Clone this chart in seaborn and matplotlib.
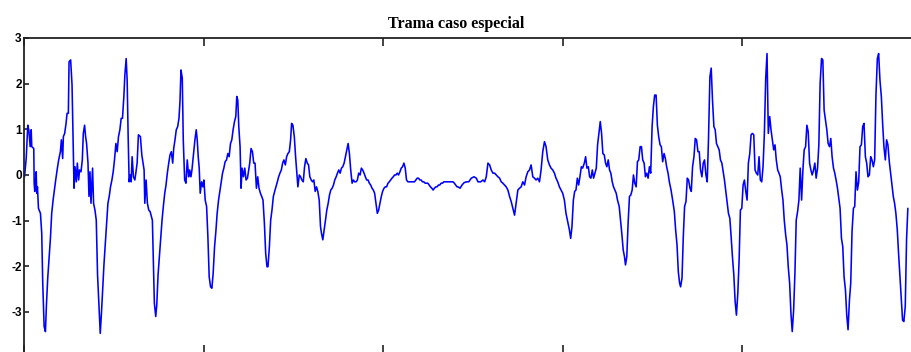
import matplotlib
matplotlib.use("Agg")
import matplotlib.pyplot as plt
import numpy as np
import pandas as pd
import seaborn as sns

# Sample positions of the frame
t = [
    0.0, 1.7, 3.3, 4.3, 5.7, 6.7, 7.3, 9.3, 9.7, 10.3, 11.0, 11.7, 12.3, 13.0, 14.0, 16.0,
    17.3, 18.3, 19.7, 21.0, 22.0, 23.3, 24.7, 26.0, 27.3, 28.7, 30.0, 31.3, 33.0, 34.3,
    36.0, 37.0, 38.3, 39.0, 40.3, 41.7, 42.7, 44.0, 44.7, 46.3, 47.7, 48.7, 49.7, 50.7,
    52.0, 53.0, 54.3, 55.3, 56.7, 58.0, 59.0, 60.3, 61.3, 62.3, 63.7, 64.7, 65.7, 66.7,
    68.3, 69.3, 70.7, 72.0, 73.3, 75.0, 76.0, 77.3, 78.7, 79.7, 81.0, 82.3, 83.7, 85.0,
    86.3, 87.7, 89.0, 90.3, 91.7, 93.0, 94.3, 95.7, 97.0, 98.3, 99.7, 100.7, 102.0, 103.0,
    104.0, 105.0, 106.0, 107.0, 108.0, 109.3, 110.7, 111.7, 113.0, 114.3, 116.3, 117.7,
    119.0, 120.0, 120.7, 122.0, 123.3, 124.7, 126.0, 128.3, 129.3, 130.3, 131.7, 132.7,
    134.0, 135.3, 136.7, 138.0, 139.3, 140.7, 142.0, 143.3, 144.7, 146.0, 147.3, 148.7,
    149.7, 151.0, 152.3, 153.7, 155.0, 156.0, 157.0, 158.3, 159.3, 160.7, 162.0, 163.3,
    164.7, 165.7, 167.0, 168.0, 169.3, 171.0, 172.3, 173.3, 174.3, 175.3, 176.3, 177.7,
    179.0, 180.0, 181.3, 182.7, 184.0, 185.3, 186.7, 188.0, 189.3, 190.7, 192.0, 193.3,
    194.7, 196.0, 197.3, 198.7, 200.0, 201.3, 202.7, 204.0, 205.3, 206.7, 208.0, 209.3,
    210.7, 212.0, 213.0,
    214.0, 215.0, 216.3, 217.3, 218.3, 219.7, 221.0, 222.3, 223.7, 225.0, 226.0, 227.3,
    228.7, 230.0, 231.3, 232.7, 234.0, 235.3, 236.7, 238.0, 239.3, 240.7, 242.0, 243.3,
    244.3, 245.7, 247.0, 248.3, 249.7, 251.0, 252.3, 253.7, 255.0, 256.3, 257.7, 259.0,
    260.3, 261.7, 263.0, 264.3, 265.7, 267.0, 268.0, 269.3, 270.7, 272.0, 273.3, 274.3,
    275.7, 277.0, 278.3, 279.7, 281.0, 282.3, 283.7, 285.0, 286.3, 287.7, 289.0, 290.3,
    291.7, 293.0, 294.3, 295.7, 297.0, 298.0, 299.3, 300.7, 302.0, 303.3, 304.7, 306.0,
    307.3, 308.7, 310.0, 311.3, 312.7, 314.0, 315.3, 316.7, 318.0, 319.3, 320.7, 322.0,
    323.3, 324.7, 326.0, 327.3, 328.7, 330.0, 331.3, 332.7, 334.0, 335.3, 336.7, 338.0,
    339.3, 340.7, 342.0, 343.3, 344.7, 346.0, 347.3, 348.7, 350.0, 351.3, 352.7, 354.0,
    355.3, 356.7, 358.0, 359.3, 360.7, 362.0, 363.3, 364.7, 366.0, 367.3, 368.7, 370.0,
    371.3, 372.7, 374.0, 375.3, 376.7, 378.0, 379.3, 380.7, 382.0, 383.3, 384.7, 386.0,
    387.3, 388.7, 390.0, 391.3, 392.7, 394.0, 395.3, 396.7, 398.0, 399.3, 400.7, 402.0,
    403.3, 404.7, 406.0, 407.3, 408.7, 410.0, 411.3, 412.7, 414.0, 415.3, 416.7, 418.0,
    419.3, 420.7, 423.3, 426.0, 428.7, 430.0, 431.3, 432.7, 434.0,
    435.0, 437.0, 439.0, 441.0, 443.3, 445.7, 448.3, 451.0, 453.3, 455.0, 457.7, 460.0,
    461.7, 463.3, 465.0, 466.7, 468.3, 470.0, 471.7, 473.3, 475.0, 476.7, 478.3, 480.0,
    481.7, 483.3, 485.0, 486.7, 488.3, 490.0, 491.7, 493.3, 495.0, 496.7, 498.3, 500.0,
    501.7, 503.3, 505.0, 506.7, 508.3, 510.0, 511.7, 513.3, 515.0, 516.7, 518.3, 520.0,
    521.7, 523.3, 525.0, 526.7, 528.3, 530.0, 531.7, 533.3, 535.0, 536.7, 538.3, 540.0,
    541.7, 543.3, 545.0, 546.7, 548.0, 549.3, 550.7, 552.0, 553.3, 554.7, 556.0, 557.3,
    558.7, 560.0, 561.7, 563.0, 564.3, 565.7, 567.0, 568.3, 569.7, 571.0, 572.3, 573.7,
    575.0, 576.3, 577.7, 579.0, 580.3, 581.7, 583.0, 584.3, 585.7, 587.0, 588.3, 589.7,
    591.0, 592.3, 593.7, 595.0, 596.7, 598.0, 599.3, 600.7, 602.0, 603.0, 604.3, 605.7,
    607.0, 608.3, 609.7, 611.0, 612.3, 613.7, 615.0, 616.3, 617.7, 619.0, 620.3, 621.7,
    623.0, 624.3, 625.7, 627.0, 628.3, 629.7, 631.0, 632.3, 633.7, 635.0, 636.3, 637.7,
    639.0, 640.3, 641.7, 643.0, 644.3, 645.7, 647.0,
    648.7, 650.3, 652.0, 653.3, 654.7, 656.0, 657.3, 658.3, 659.7, 661.0, 662.3, 663.7,
    665.0, 666.3, 667.7, 669.0, 670.3, 671.7, 673.0, 674.3, 675.7, 677.0, 678.3, 679.7,
    681.0, 682.3, 683.7, 685.0, 686.3, 687.7, 689.0, 690.3, 691.7, 693.0, 694.3, 695.7,
    697.0, 698.3, 699.7, 701.0, 702.3, 703.7, 705.0, 706.3, 707.7, 709.0, 710.3, 711.7,
    713.0, 714.3, 715.7, 717.0, 718.3, 719.7, 721.0, 722.3, 723.7, 725.0, 726.3, 727.7,
    729.0, 730.3, 731.7, 733.0, 734.3, 735.7, 737.0, 738.3, 739.7, 741.0, 742.3, 743.7,
    745.0, 746.3, 747.7, 749.0, 750.3, 751.7, 753.0, 754.3, 755.7, 757.0, 758.3, 759.7,
    761.0, 762.3, 763.7, 765.0, 766.3, 767.7, 769.0, 770.3, 771.7, 773.0, 774.3, 775.7,
    777.0, 778.3, 779.7, 781.0, 782.3, 783.7, 785.0, 786.3, 787.7, 789.0, 790.3, 791.7,
    793.0, 794.3, 795.7, 797.0, 798.3, 799.7, 801.0, 802.3, 803.7, 805.0, 806.3, 807.7,
    809.0, 810.3, 811.7, 813.0, 814.3, 815.7, 817.0, 818.3, 819.7, 821.0, 822.3, 823.7,
    825.0, 826.3, 827.7, 829.0, 830.3, 831.7, 833.0, 834.3, 835.7, 837.0, 838.3, 839.7,
    841.0, 842.3, 843.7, 845.0, 846.3, 847.7, 849.0, 850.3, 851.7, 853.0, 854.3, 855.7,
    857.0, 858.3, 859.7, 861.0, 862.3, 863.7, 865.0, 866.3, 867.7, 869.0, 870.3, 871.7,
    873.0, 874.3, 875.7, 877.0, 878.3, 879.7, 881.0, 882.3, 883.7, 885.0, 886.3,
]

# Frame amplitude at each sample
amplitude = [
    -0.04, 0.36, 1.09, 0.99, 0.62, 0.99, 0.62, 0.58, -0.18, -0.36, -0.18, 0.07, -0.40, -0.26, -0.73, -0.84,
    -1.28, -2.37, -3.32, -3.43, -2.85, -2.26, -1.82, -1.39, -0.84, -0.55, -0.33, -0.11, 0.15, 0.33,
    0.51, 0.77, 0.36, 0.84, 0.91, 1.13, 1.35, 1.35, 2.48, 2.52, 1.97, 0.84, -0.29, 0.18,
    -0.15, 0.26, -0.11, 0.11, 0.07, 0.33, 0.91, 1.09, 0.84, 0.69, 0.26, -0.47, 0.07, -0.62,
    0.15, -0.62, -0.77, -0.99, -2.19, -3.03, -3.47, -2.99, -2.37, -1.97, -1.53, -1.06, -0.62, -0.47,
    -0.26, -0.11, 0.07, 0.33, 0.69, 0.51, 0.84, 0.99, 1.24, 1.24, 1.72, 2.19, 2.55, 2.08,
    0.84, -0.15, 0.00, -0.15, 0.40, -0.04, -0.11, 0.04, 0.26, 0.88, 0.84, 0.44,
    0.26, 0.11, -0.62, -0.11, -0.62, -0.77, -0.80, -0.99, -1.86, -2.81, -3.10, -2.85,
    -2.19, -1.79, -1.39, -0.99, -0.69, -0.40, -0.22, 0.04, 0.26, 0.44, 0.51, 0.26,
    0.58, 0.77, 0.99, 1.06, 1.24, 1.61, 2.30, 2.12, 0.77, -0.11, -0.18, 0.33,
    -0.04, 0.11, -0.04, 0.11, 0.40, 0.77, 0.99, 0.77, 0.40, 0.15, -0.40, -0.15,
    -0.26, -0.11, -0.55, -0.69, -1.35, -2.23, -2.45, -2.48, -2.15, -1.57, -1.24, -0.84,
    -0.55, -0.36, -0.18, 0.04, 0.15, 0.29, 0.33, 0.47, 0.40, 0.69, 0.77, 0.99,
    1.17, 1.28, 1.72,
    1.64, 1.06, 0.62, -0.29, 0.15, -0.04, 0.15, -0.11, -0.07, 0.11, 0.26, 0.58,
    0.51, 0.26, 0.26, -0.29, -0.04, -0.29, -0.40, -0.47, -0.55, -1.06, -1.72, -2.01,
    -2.01, -1.57, -0.99, -0.77, -0.47, -0.36, -0.26, -0.15, -0.04, 0.04, 0.11, 0.26,
    0.33, 0.22, 0.40, 0.47, 0.51, 0.77, 1.13, 1.09, 0.84, 0.40, 0.04, -0.26,
    0.00, -0.04, -0.11, -0.15, 0.18, 0.36, 0.26, 0.22, -0.04, -0.11, -0.15, -0.11,
    -0.36, -0.26, -0.36, -0.55, -1.13, -1.28, -1.42, -1.20, -0.99, -0.77, -0.62, -0.44,
    -0.33, -0.29, -0.22, -0.11, -0.04, 0.04, 0.11, 0.04, 0.15, 0.18, 0.26, 0.40,
    0.55, 0.69, 0.47, 0.11, -0.18, -0.11, -0.15, -0.15, -0.11, 0.04, 0.00, 0.15,
    0.11, 0.04, -0.04, -0.11, -0.11, -0.18, -0.22, -0.29, -0.33, -0.40, -0.62, -0.84,
    -0.77, -0.62, -0.47, -0.36, -0.29, -0.26, -0.26, -0.18, -0.15, -0.11, -0.07, -0.04,
    0.00, 0.00, 0.04, 0.00, 0.07, 0.15, 0.18, 0.26, 0.15, -0.11, -0.15, -0.15,
    -0.15, -0.15, -0.15, -0.15, -0.11, -0.07, -0.07, -0.11, -0.11, -0.15, -0.15, -0.18,
    -0.18, -0.18, -0.22, -0.26, -0.29, -0.33, -0.29, -0.26, -0.26, -0.22, -0.22, -0.18,
    -0.18, -0.15, -0.15, -0.15, -0.15, -0.15, -0.18, -0.22, -0.26,
    -0.26, -0.29, -0.22, -0.17, -0.15, -0.15, -0.07, -0.04, -0.07, -0.15, -0.15, -0.11,
    -0.15, -0.04, 0.26, 0.22, 0.11, 0.04, 0.04, 0.00, -0.04, -0.07, -0.15, -0.18,
    -0.22, -0.26, -0.33, -0.47, -0.58, -0.73, -0.88, -0.62, -0.33, -0.29, -0.26, -0.15,
    -0.22, -0.04, 0.07, 0.11, 0.22, -0.04, -0.07, -0.11, -0.07, -0.15, 0.11, 0.51,
    0.73, 0.62, 0.33, 0.22, 0.15, 0.11, 0.04, -0.07, -0.15, -0.26, -0.33, -0.40,
    -0.55, -0.84, -1.02, -1.20, -1.39, -1.13, -0.55, -0.36, -0.33, -0.07, -0.22, -0.04,
    0.18, 0.15, 0.26, 0.40, 0.15, 0.18, -0.04, -0.07, 0.11, -0.07, 0.04, 0.15,
    0.66, 0.91, 1.17, 0.91, 0.47, 0.44, 0.26, 0.18, 0.33, 0.11, 0.04, -0.15,
    -0.26, -0.33, -0.40, -0.55, -0.69, -0.99, -1.28, -1.64, -1.79, -1.97, -1.79, -1.02,
    -0.47, -0.44, -0.33, 0.00, -0.18, -0.26, 0.29, 0.33, 0.62, 0.62, 0.33, 0.26,
    -0.04, 0.04, -0.07, 0.18, 0.04, 1.06, 1.50, 1.75, 1.75, 1.09, 0.84, 0.66,
    0.62, 0.29, 0.47, 0.36, 0.18, 0.04, -0.15,
    -0.33, -0.55, -0.80, -1.20, -1.53, -2.12, -2.37, -2.45, -2.26, -1.35, -0.69, -0.58,
    -0.07, -0.11, -0.29, -0.36, 0.18, 0.40, 0.80, 0.77, 0.51, 0.51, 0.11, -0.04,
    0.26, 0.33, 0.00, -0.15, 0.80, 2.15, 2.34, 1.64, 1.06, 0.99, 0.69, 0.62,
    0.55, 0.33, 0.26, 0.07, -0.11, -0.36, -0.58, -0.84, -0.95, -1.35, -1.79, -2.19,
    -2.77, -3.07, -2.59, -1.86, -0.77, -0.73, -0.22, -0.11, -0.36, -0.55, 0.26, 0.47,
    0.88, 0.91, 0.88, 0.11, 0.04, 0.00, 0.40, -0.11, -0.15, 0.18, 0.88, 2.12,
    2.66, 0.91, 1.28, 0.99, 0.77, 0.55, 0.66, 0.33, 0.11, 0.04, -0.04, -0.33,
    -0.55, -0.99, -1.31, -1.53, -2.01, -2.37, -3.03, -3.43, -2.96, -2.15, -0.99, -0.80,
    -0.55, 0.15, -0.55, 0.11, 0.55, 0.62, 1.09, 0.95, 0.26, 0.11, 0.00, 0.11,
    0.26, -0.07, 0.15, 0.66, 2.01, 2.55, 2.52, 1.42, 1.20, 0.99, 0.69, 0.62,
    0.80, 0.40, 0.15, 0.04, -0.11, -0.29, -0.51, -0.73, -1.39, -1.57, -2.23, -2.52,
    -3.07, -3.39, -2.74, -2.37, -1.24, -0.73, -0.69, 0.07, -0.33, -0.15, 0.62, 0.66,
    1.06, 1.13, 0.40, 0.26, -0.04, 0.00, 0.40, 0.33, 0.18, 0.33, 1.75, 2.55,
    2.66, 2.08, 1.72, 1.13, 0.62, 0.33, 0.77, 0.66, 0.29, 0.04, -0.22, -0.47,
    -0.62, -0.84, -1.20, -1.72, -2.19, -2.66, -3.18, -3.21, -2.88, -1.42, -0.73,
]

y_ticks = [-3, -2, -1, 0, 1, 2, 3]
x_ticks = [0, 180, 360, 540, 720, 900]

frame = pd.DataFrame({"t": t, "amplitude": amplitude})

sns.set_theme(style="white")
plt.rcParams["font.family"] = ["Liberation Sans", "DejaVu Sans"]
plt.rcParams["text.color"] = "black"
plt.rcParams["ytick.color"] = "black"
plt.rcParams["xtick.color"] = "black"

fig = plt.figure(figsize=(9.12, 3.52), dpi=100)
W, H = 912.0, 352.0
ax = fig.add_axes([24.5 / W, 1 - 353.5 / H, 897.0 / W, (353.5 - 38.0) / H])

sns.lineplot(data=frame, x="t", y="amplitude", ax=ax, color="#0000ff",
             linewidth=1.15, sort=False, estimator=None)

ax.set_xlim(0, 900)
ax.set_ylim(-3.91, 3)
ax.set_xticks(x_ticks)
ax.set_yticks(y_ticks)
ax.set_yticklabels([str(v) for v in y_ticks])
ax.set_xlabel("")
ax.set_ylabel("")

ax.tick_params(axis="x", which="both", direction="in", length=6, width=1.2,
               color="#222222", top=True, bottom=True, labelbottom=False)
ax.tick_params(axis="y", which="both", direction="in", length=3.5, width=1.2,
               color="#222222", left=True, right=True, labelsize=8.5, pad=2.0,
               labelcolor="black")
for lbl in ax.get_yticklabels():
    lbl.set_fontweight("bold")

for side in ("top", "left", "right", "bottom"):
    ax.spines[side].set_color("#222222")
    ax.spines[side].set_linewidth(1.3)

fig.text(456 / W, 1 - 28 / H, "Trama caso especial", ha="center", va="baseline",
         family=["Liberation Serif", "DejaVu Serif"], fontweight="bold",
         fontsize=11.5, color="black")

fig.savefig("out.png", dpi=100)
